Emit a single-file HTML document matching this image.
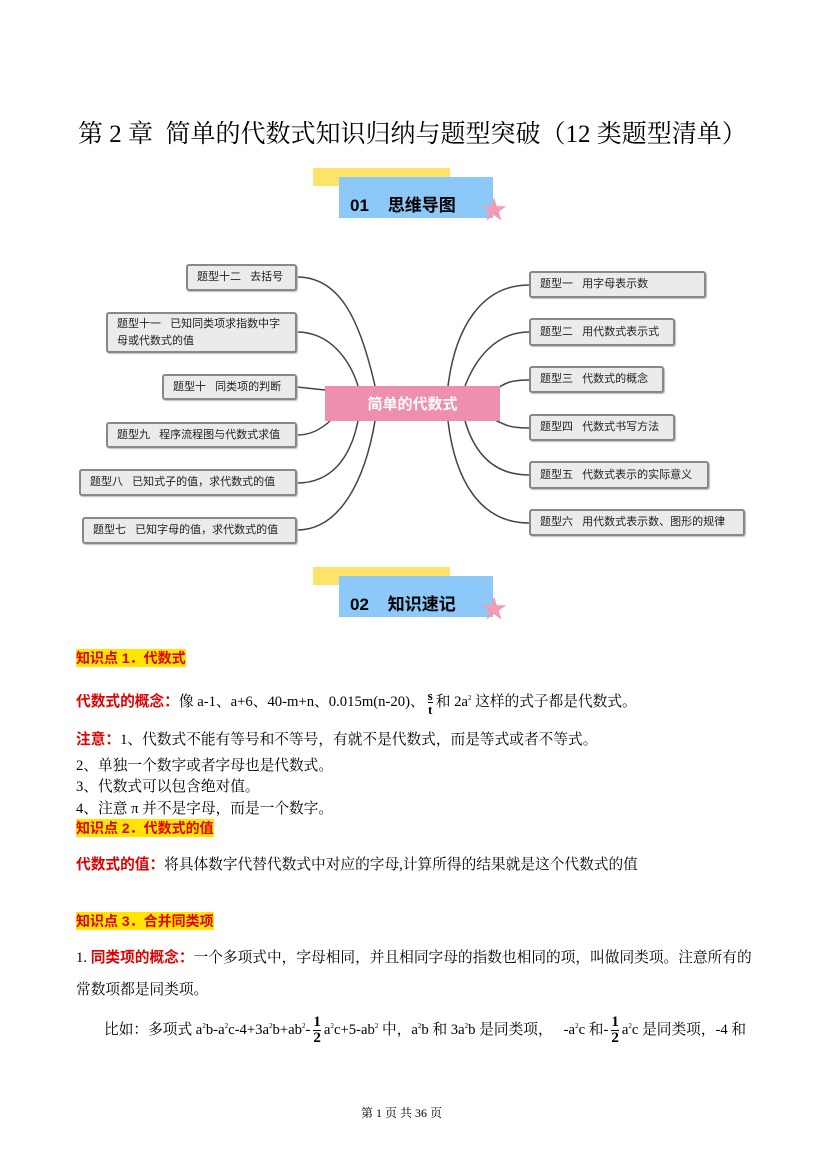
<!DOCTYPE html>
<html><head><meta charset="utf-8"><style>
body{margin:0;background:#fff;}
#p{position:relative;width:827px;height:1169px;overflow:hidden;font-family:"Liberation Serif","Noto Serif CJK SC","Noto Sans CJK SC",serif;color:#000;}
.a{position:absolute;white-space:nowrap;}
.bx{position:absolute;background:#ebebeb;border:2px solid #888;border-radius:3px;box-sizing:border-box;font-family:"Liberation Sans","Noto Sans CJK SC",sans-serif;font-size:11px;color:#222;padding:0 0 0 9px;display:flex;align-items:center;line-height:17px;white-space:nowrap;overflow:hidden;box-shadow:1px 1px 1px #bbb;}
.kp{font-family:"Liberation Sans","Noto Sans CJK SC",sans-serif;font-weight:bold;color:#e00000;background:#ffe600;font-size:14px;line-height:18px;}
.r{font-family:"Liberation Sans","Noto Sans CJK SC",sans-serif;font-weight:bold;color:#e00000;}
.t{font-size:14.7px;}
sup{font-size:7px;}
.fr{display:inline-block;vertical-align:middle;text-align:center;font-weight:bold;line-height:15px;font-size:15px;margin:0 3px;}
.fr i{display:block;border-top:1px solid #000;font-style:normal;}
</style></head><body><div id="p">
<div class="a" style="left:78px;top:114px;font-size:25px;">第 2 章&nbsp; 简单的代数式知识归纳与题型突破（12 类题型清单）</div>

<div class="a" style="left:313px;top:168px;width:137px;height:18px;background:#fde36a;"></div>
<div class="a" style="left:339px;top:177px;width:154px;height:41px;background:#8cc8f8;"></div>
<div class="a" style="left:350px;top:191px;font-size:17px;font-weight:bold;font-family:'Liberation Sans','Noto Sans CJK SC',sans-serif;">01&nbsp;&nbsp;&nbsp; 思维导图</div>
<div class="a" style="left:481px;top:198px;font-size:26px;color:#f59ab0;line-height:26px;">★</div>

<svg class="a" style="left:0;top:0" width="827" height="600" fill="none" stroke="#444" stroke-width="1.5">
<path d="M297,277 C340,277 360,320 375,386"/>
<path d="M297,332 C330,332 350,360 358,386"/>
<path d="M297,387 L325,390"/>
<path d="M297,435 C310,435 320,430 330,421"/>
<path d="M297,483 C330,483 350,460 358,421"/>
<path d="M297,530 C340,530 365,480 375,421"/>
<path d="M529,285 C480,285 455,330 448,386"/>
<path d="M529,332 C495,332 475,360 465,386"/>
<path d="M529,380 C510,380 505,383 495,390"/>
<path d="M529,428 C510,428 505,425 495,420"/>
<path d="M529,475 C495,475 475,455 465,421"/>
<path d="M529,523 C480,523 455,480 448,421"/>
</svg>
<div class="a" style="left:325px;top:386px;width:175px;height:35px;background:#ee8fb0;color:#fff;font-family:'Liberation Sans','Noto Sans CJK SC',sans-serif;font-size:15px;font-weight:bold;display:flex;align-items:center;justify-content:center;">简单的代数式</div>

<div class="bx" style="left:186px;top:264px;width:111px;height:27px;">题型十二&nbsp;&nbsp; 去括号</div>
<div class="bx" style="left:106px;top:312px;width:191px;height:41px;white-space:normal;padding-right:6px;">题型十一&nbsp;&nbsp; 已知同类项求指数中字母或代数式的值</div>
<div class="bx" style="left:162px;top:374px;width:135px;height:26px;">题型十&nbsp;&nbsp; 同类项的判断</div>
<div class="bx" style="left:106px;top:422px;width:191px;height:26px;">题型九&nbsp;&nbsp; 程序流程图与代数式求值</div>
<div class="bx" style="left:79px;top:469px;width:218px;height:27px;">题型八&nbsp;&nbsp; 已知式子的值，求代数式的值</div>
<div class="bx" style="left:82px;top:517px;width:215px;height:27px;">题型七&nbsp;&nbsp; 已知字母的值，求代数式的值</div>
<div class="bx" style="left:529px;top:271px;width:177px;height:27px;">题型一&nbsp;&nbsp; 用字母表示数</div>
<div class="bx" style="left:529px;top:318px;width:146px;height:28px;">题型二&nbsp;&nbsp; 用代数式表示式</div>
<div class="bx" style="left:529px;top:366px;width:135px;height:27px;">题型三&nbsp;&nbsp; 代数式的概念</div>
<div class="bx" style="left:529px;top:414px;width:146px;height:27px;">题型四&nbsp;&nbsp; 代数式书写方法</div>
<div class="bx" style="left:529px;top:461px;width:180px;height:28px;">题型五&nbsp;&nbsp; 代数式表示的实际意义</div>
<div class="bx" style="left:529px;top:509px;width:216px;height:27px;">题型六&nbsp;&nbsp; 用代数式表示数、图形的规律</div>

<div class="a" style="left:313px;top:567px;width:137px;height:18px;background:#fde36a;"></div>
<div class="a" style="left:339px;top:576px;width:154px;height:41px;background:#8cc8f8;"></div>
<div class="a" style="left:350px;top:590px;font-size:17px;font-weight:bold;font-family:'Liberation Sans','Noto Sans CJK SC',sans-serif;">02&nbsp;&nbsp;&nbsp; 知识速记</div>
<div class="a" style="left:481px;top:597px;font-size:26px;color:#f59ab0;line-height:26px;">★</div>

<div class="a kp" style="left:76px;top:649px;">知识点 1．代数式</div>
<div class="a t" style="left:76px;top:680px;line-height:36px;"><span class="r">代数式的概念：</span>像 a-1、a+6、40-m+n、0.015m(n-20)、<span class="fr" style="font-size:13px;line-height:13px;">s<i>t</i></span>和 2a<sup>2</sup> 这样的式子都是代数式。</div>
<div class="a t" style="left:76px;top:728px;"><span class="r">注意：</span>1、代数式不能有等号和不等号，有就不是代数式，而是等式或者不等式。</div>
<div class="a t" style="left:76px;top:754px;">2、单独一个数字或者字母也是代数式。</div>
<div class="a t" style="left:76px;top:775px;">3、代数式可以包含绝对值。</div>
<div class="a t" style="left:76px;top:797px;">4、注意 π 并不是字母，而是一个数字。</div>
<div class="a kp" style="left:76px;top:819px;">知识点 2．代数式的值</div>
<div class="a t" style="left:76px;top:853px;"><span class="r">代数式的值：</span>将具体数字代替代数式中对应的字母,计算所得的结果就是这个代数式的值</div>
<div class="a kp" style="left:76px;top:912px;">知识点 3．合并同类项</div>
<div class="a t" style="left:76px;top:946px;">1. <span class="r">同类项的概念：</span>一个多项式中，字母相同，并且相同字母的指数也相同的项，叫做同类项。注意所有的</div>
<div class="a t" style="left:76px;top:978px;">常数项都是同类项。</div>
<div class="a t" style="left:104px;top:1008px;line-height:36px;">比如：多项式 a<sup>2</sup>b-a<sup>2</sup>c-4+3a<sup>2</sup>b+ab<sup>2</sup>-<span class="fr">1<i>2</i></span>a<sup>2</sup>c+5-ab<sup>2</sup> 中，a<sup>2</sup>b 和 3a<sup>2</sup>b 是同类项，&nbsp;&nbsp; -a<sup>2</sup>c 和-<span class="fr">1<i>2</i></span>a<sup>2</sup>c 是同类项，-4 和</div>

<div class="a" style="left:361px;top:1104px;font-size:12px;">第 1 页 共 36 页</div>
</div></body></html>
